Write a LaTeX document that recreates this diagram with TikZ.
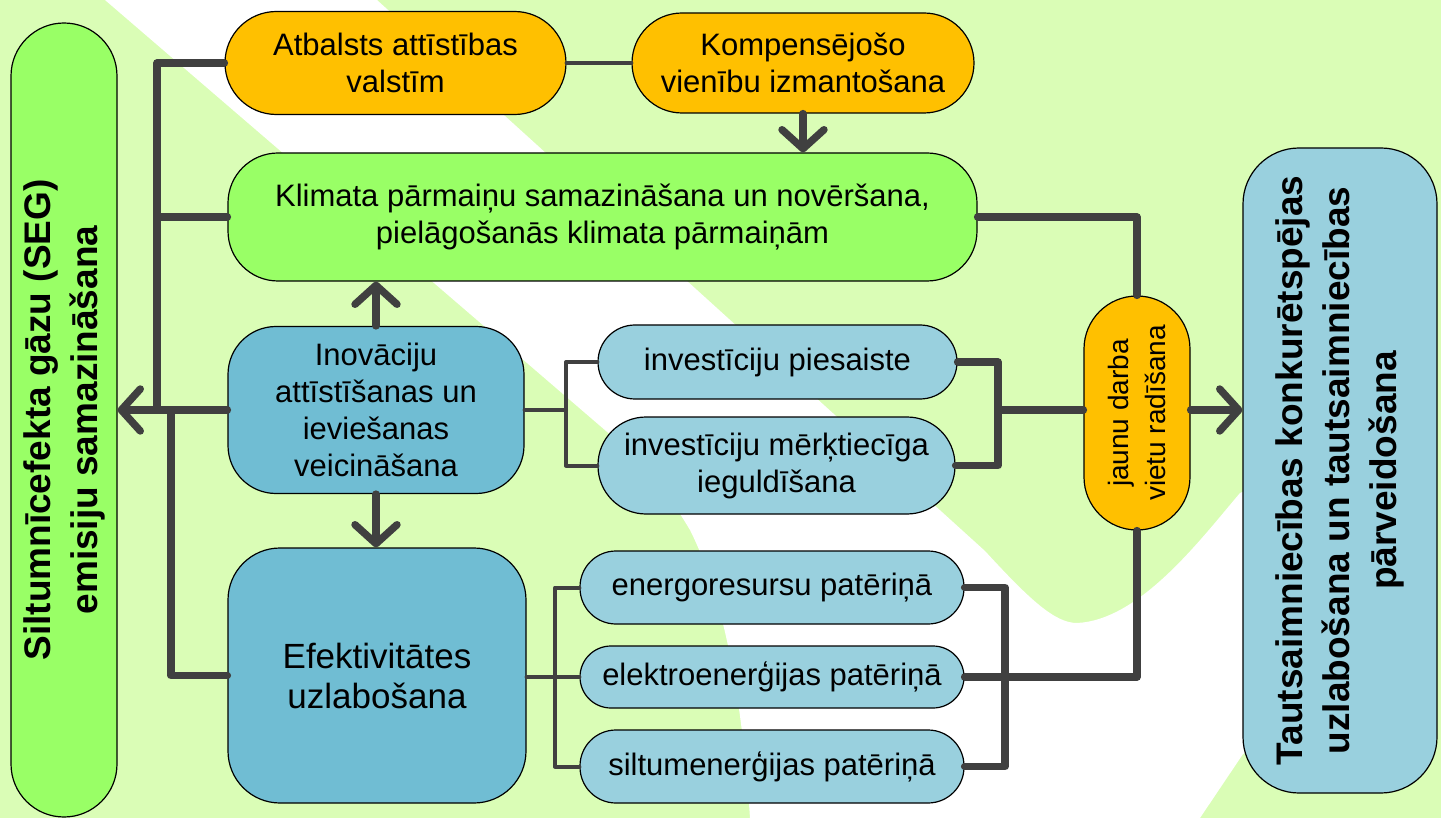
\documentclass[tikz,border=0pt]{standalone}
\usepackage{fontspec}
\setmainfont{Liberation Sans}
\usetikzlibrary{arrows.meta}

\definecolor{bgGreen}{RGB}{218,253,182}
\definecolor{boxGreen}{RGB}{153,255,102}
\definecolor{boxOrange}{RGB}{255,192,0}
\definecolor{boxBlue}{RGB}{112,189,211}
\definecolor{boxLightBlue}{RGB}{153,208,222}
\definecolor{lineGray}{RGB}{64,64,64}

\begin{document}
\begin{tikzpicture}[x=0.5pt,y=-0.5pt,
    box/.style={draw=black,line width=0.6pt,align=center,inner sep=0pt,
      font=\fontsize{15.5}{18.5}\selectfont},
    bigbox/.style={box,font=\fontsize{18.5}{23.5}\selectfont\bfseries},
    thinline/.style={draw=lineGray,line width=2pt,line cap=round,line join=round},
    thickline/.style={draw=lineGray,line width=3.7pt,line cap=round,line join=round},
    arr/.style={thickline,-{Straight Barb[round,length=9.5pt,width=21pt]}}]
      \useasboundingbox (0,0) rectangle (1441,818);
      \fill[bgGreen] (0,0) rectangle (1441,818);
      \fill[white] (105,0) -- (377,0) -- (985,551)
        .. controls (1030,600) and (1055,623) .. (1077,623)
        .. controls (1140,620) and (1200,540) .. (1240,493)
        -- (1320,460) -- (1320,720) -- (1243,754) -- (1200,818) -- (750,818)
        .. controls (742,700) and (725,600) .. (690,530)
        .. controls (660,480) and (640,460) .. (613,437) -- cycle;
      \node[bigbox,fill=boxGreen,rotate=90,minimum width=397pt,minimum height=53pt,
        rounded corners=26.5pt] (seg) at (64,420) {Siltumnīcefekta gāzu (SEG)\\emisiju samazināšana};
      \node[box,fill=boxOrange,minimum width=170.5pt,minimum height=51.5pt,
        rounded corners=25.7pt] (atbalsts) at (395.5,63) {Atbalsts attīstības\\valstīm};
      \node[box,fill=boxOrange,minimum width=171pt,minimum height=50pt,
        rounded corners=25pt] (kompens) at (803,63) {Kompensējošo\\vienību izmantošana};
      \node[box,fill=boxGreen,minimum width=374.5pt,minimum height=64pt,
        rounded corners=25pt] (klimats) at (602.5,217) {Klimata pārmaiņu samazināšana un novēršana,\\pielāgošanās klimata pārmaiņām};
      \node[box,fill=boxBlue,minimum width=148pt,minimum height=83.5pt,
        rounded corners=24pt] (inov) at (376,410) {Inovāciju\\attīstīšanas un\\ieviešanas\\veicināšana};
      \node[box,fill=boxBlue,minimum width=149pt,minimum height=127.5pt,rounded corners=26pt,
        font=\fontsize{17.5}{20}\selectfont] (efekt) at (377,675.5) {Efektivitātes\\uzlabošana};
      \node[box,fill=boxLightBlue,minimum width=179.5pt,minimum height=37pt,
        rounded corners=18.5pt] (piesaiste) at (777.5,362) {investīciju piesaiste};
      \node[box,fill=boxLightBlue,minimum width=178.5pt,minimum height=48.5pt,
        rounded corners=24pt] (merkt) at (776.5,465.5) {investīciju mērķtiecīga\\ieguldīšana};
      \node[box,fill=boxLightBlue,minimum width=192pt,minimum height=36.5pt,
        rounded corners=18pt] (energo) at (772,587.5) {energoresursu patēriņā};
      \node[box,fill=boxLightBlue,minimum width=192pt,minimum height=31pt,
        rounded corners=15.5pt] (elektro) at (772,677) {elektroenerģijas patēriņā};
      \node[box,fill=boxLightBlue,minimum width=192pt,minimum height=36.5pt,
        rounded corners=18pt] (siltum) at (772,766.5) {siltumenerģijas patēriņā};
      \node[box,fill=boxOrange,rotate=90,minimum width=117pt,minimum height=53pt,rounded corners=26.5pt,
        font=\fontsize{14}{18.5}\selectfont] (darbavietas) at (1137,413) {jaunu darba\\vietu radīšana};
      \node[bigbox,fill=boxLightBlue,rotate=90,minimum width=322.5pt,minimum height=97pt,
        rounded corners=28pt] (tauts) at (1340,470.5) {Tautsaimniecības konkurētspējas\\uzlabošana un tautsaimniecības\\pārveidošana};
      \coordinate (trunk) at (157,410);
      \coordinate (trunkb) at (171,410);
      \coordinate (fork1) at (566,410);
      \coordinate (join1) at (998,410);
      \coordinate (fork2) at (555,677);
      \coordinate (join2) at (1005,677);
      \draw[thinline] (atbalsts.east) to (kompens.west);
      \draw[arr] (kompens.south) to (kompens.south |- klimats.north);
      \draw[thickline] (atbalsts.west) -| (trunk);
      \draw[thickline] (klimats.west) to (klimats.west -| trunk);
      \draw[arr] (inov.west) to (inov.west -| seg.south);
      \draw[thickline] (efekt.west) -| (trunkb);
      \draw[arr] (inov.north) to (inov.north |- klimats.south);
      \draw[arr] (inov.south) to (inov.south |- efekt.north);
      \draw[thinline] (inov.east) to (fork1);
      \draw[thinline] (piesaiste.west) -| (fork1) |- (merkt.west);
      \draw[thickline] (piesaiste.east) -| (join1) |- (merkt.east);
      \draw[thickline] (join1) to (join1 -| darbavietas.north);
      \draw[arr] (join1 -| darbavietas.south) to (join1 -| tauts.north);
      \draw[thickline] (klimats.east) -| (darbavietas.east);
      \draw[thinline] (fork2 -| efekt.east) to (fork2);
      \draw[thinline] (energo.west) -| (fork2) |- (siltum.west);
      \draw[thinline] (fork2) to (elektro.west);
      \draw[thickline] (energo.east) -| (join2) |- (siltum.east);
      \draw[thickline] (elektro.east) -| (darbavietas.west);
    \end{tikzpicture}
\end{document}
